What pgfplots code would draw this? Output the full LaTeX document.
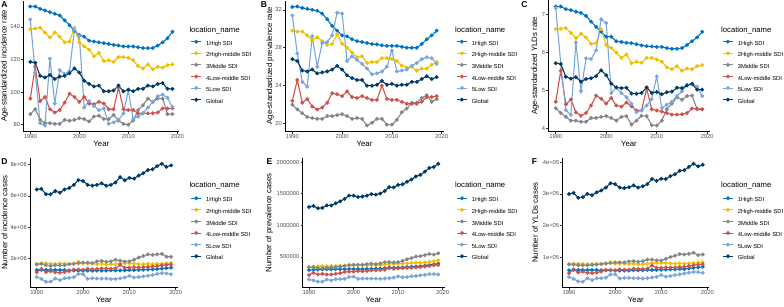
\documentclass[border=0pt]{standalone}
\usepackage{pgfplots}
\pgfplotsset{compat=1.18}
\usepackage{pgfplotstable}
\usepackage{fontspec}
\setmainfont{Liberation Sans}
\definecolor{c1}{HTML}{0073C2}
\definecolor{c2}{HTML}{EFC000}
\definecolor{c3}{HTML}{868686}
\definecolor{c4}{HTML}{CD534C}
\definecolor{c5}{HTML}{7AA6DC}
\definecolor{c6}{HTML}{003C67}
\definecolor{gray30}{gray}{0.30}
\definecolor{gray20}{gray}{0.20}

\pgfplotstableread{
year h hm m lm l g
1990 152.5 138.5 86.5 96 144.5 118.5
1991 152.5 139 89.5 115.5 112 118
1992 151 139.5 83 94.5 81 110
1993 150 136.5 81 97 79.5 109
1994 149 133.5 81 89.5 120.5 110.5
1995 148 136.5 80.5 87.5 93 108
1996 147 134 80.5 89 113.5 109.5
1997 144 130.5 83 93.5 111 110
1998 141 131 82.5 99 113 111.5
1999 137.5 139.5 83 97 138 114.5
2000 135 130.5 84 94 134.5 112
2001 134 128 83.5 97 90.5 107
2002 131.5 126 82 93 94.5 105
2003 131 122 85 92.5 91.5 103.5
2004 130.5 124 85.5 94 89 104
2005 130 119 83.5 93 90 100.5
2006 129.5 119.5 83.5 89.5 80.5 100.5
2007 129 118.5 86 89.5 81.5 101
2008 128.5 121.5 82.5 103 83 104
2009 128 121.5 80.5 89.5 87 100.5
2010 128 121 80 89 101 101.5
2011 128 119.5 82.5 89 83.5 100.5
2012 127.5 116 89 87 85 102
2013 127 114.5 92 87 87 102
2014 127 117 96 87 90.5 104
2015 127 114 94 87 94 103.5
2016 128.5 115.5 96 87.5 97.5 105
2017 130.5 115 96 90 98.5 105.5
2018 133 116.5 86.5 90 96.5 102
2019 137 117 86.5 90 91 102
}\tabA

\pgfplotstableread{
year h hm m lm l g
1990 32.3 29.8 22.0 22.4 31.4 26.8
1991 32.35 29.7 21.5 24.6 27.4 26.6
1992 32.2 29.7 21.1 22.2 24.4 25.6
1993 32.1 29.3 20.7 22.6 23.9 25.5
1994 32.0 28.8 20.6 21.8 29.2 25.7
1995 31.9 29.1 20.5 21.5 26.0 25.3
1996 31.6 28.7 20.5 21.7 28.5 25.4
1997 31.0 28.3 20.8 22.2 28.6 25.5
1998 30.3 28.4 20.8 23.2 29.3 25.7
1999 29.8 29.4 20.9 23.1 31.7 26.1
2000 29.3 28.4 21.0 22.9 31.6 25.7
2001 29.2 28.0 20.8 23.4 26.6 25.1
2002 28.9 27.5 20.5 22.8 27.1 24.8
2003 28.7 27.0 20.6 22.7 26.7 24.6
2004 28.6 27.1 20.5 22.9 26.3 24.6
2005 28.5 26.4 19.8 22.7 25.8 24.0
2006 28.4 26.5 20.1 22.5 25.2 24.0
2007 28.35 26.5 20.5 22.5 25.3 24.1
2008 28.25 26.9 20.5 24.0 25.5 24.5
2009 28.2 26.9 19.9 22.6 26.0 24.1
2010 28.2 26.8 19.9 22.5 27.7 24.2
2011 28.2 26.6 20.4 22.5 25.5 24.0
2012 28.1 26.1 21.2 22.3 25.6 24.1
2013 28.0 25.9 21.6 22.1 25.7 24.1
2014 28.0 26.0 22.2 22.1 26.1 24.4
2015 28.0 25.6 22.2 22.1 26.4 24.4
2016 28.4 25.8 22.7 22.3 26.8 24.7
2017 28.9 25.8 23.0 22.8 27.0 25.0
2018 29.3 26.2 22.3 22.8 26.9 24.7
2019 29.8 26.5 22.6 22.9 26.3 24.9
}\tabB

\pgfplotstableread{
year h hm m lm l g
1990 7.22 6.62 4.53 4.70 7.18 5.72
1991 7.22 6.63 4.40 5.52 5.70 5.70
1992 7.15 6.65 4.30 4.63 4.48 5.36
1993 7.12 6.52 4.20 4.76 4.35 5.31
1994 7.08 6.38 4.20 4.42 6.27 5.35
1995 7.05 6.50 4.17 4.33 4.98 5.23
1996 6.97 6.40 4.17 4.40 5.85 5.30
1997 6.82 6.23 4.27 4.60 5.83 5.32
1998 6.68 6.25 4.27 4.86 6.06 5.38
1999 6.55 6.62 4.30 4.78 6.88 5.53
2000 6.42 6.20 4.32 4.65 6.78 5.40
2001 6.42 6.12 4.27 4.80 4.93 5.18
2002 6.30 6.00 4.20 4.60 5.08 5.08
2003 6.28 5.86 4.30 4.57 4.93 5.06
2004 6.26 5.95 4.32 4.68 4.82 5.07
2005 6.25 5.72 4.10 4.58 4.65 4.92
2006 6.22 5.76 4.20 4.47 4.42 4.91
2007 6.19 5.73 4.33 4.47 4.48 4.93
2008 6.17 5.86 4.32 5.05 4.60 5.08
2009 6.16 5.86 4.08 4.50 4.77 4.93
2010 6.15 5.82 4.07 4.47 5.37 4.96
2011 6.15 5.76 4.20 4.44 4.53 4.90
2012 6.12 5.61 4.50 4.40 4.62 4.95
2013 6.10 5.56 4.65 4.36 4.70 4.97
2014 6.10 5.64 4.82 4.36 4.85 5.07
2015 6.12 5.52 4.75 4.37 4.98 5.06
2016 6.20 5.58 4.85 4.40 5.15 5.13
2017 6.30 5.56 4.86 4.52 5.18 5.17
2018 6.40 5.64 4.50 4.52 5.10 5.02
2019 6.55 5.67 4.50 4.50 4.85 5.02
}\tabC

\pgfplotstableread{
year h hm m lm l g
1990 1250000 1650000 1600000 1100000 800000 6400000
1991 1260000 1680000 1650000 1320000 680000 6450000
1992 1250000 1680000 1550000 1120000 500000 6100000
1993 1250000 1660000 1520000 1170000 500000 6100000
1994 1250000 1630000 1550000 1100000 700000 6300000
1995 1250000 1680000 1550000 1080000 600000 6200000
1996 1250000 1660000 1550000 1120000 720000 6400000
1997 1230000 1630000 1620000 1180000 750000 6500000
1998 1220000 1650000 1650000 1280000 780000 6700000
1999 1210000 1780000 1680000 1280000 1000000 7000000
2000 1200000 1680000 1720000 1270000 980000 6950000
2001 1210000 1670000 1720000 1330000 680000 6700000
2002 1200000 1660000 1700000 1300000 720000 6650000
2003 1210000 1620000 1800000 1310000 700000 6700000
2004 1210000 1650000 1830000 1350000 700000 6800000
2005 1210000 1600000 1780000 1340000 700000 6650000
2006 1220000 1620000 1800000 1330000 670000 6700000
2007 1220000 1620000 1900000 1350000 680000 6850000
2008 1230000 1680000 1850000 1580000 720000 7200000
2009 1230000 1680000 1800000 1400000 770000 7000000
2010 1240000 1680000 1800000 1400000 880000 7150000
2011 1250000 1670000 1900000 1420000 770000 7100000
2012 1260000 1630000 2050000 1420000 800000 7300000
2013 1270000 1620000 2150000 1420000 840000 7450000
2014 1280000 1650000 2250000 1450000 880000 7650000
2015 1290000 1620000 2220000 1470000 930000 7700000
2016 1310000 1640000 2250000 1500000 1000000 7900000
2017 1340000 1640000 2280000 1550000 1050000 8050000
2018 1370000 1670000 2100000 1580000 1030000 7850000
2019 1400000 1700000 2100000 1600000 980000 7950000
}\tabD

\pgfplotstableread{
year h hm m lm l g
1990 290000 345000 330000 210000 140000 1290000
1991 295000 345000 335000 245000 125000 1305000
1992 298000 350000 320000 220000 105000 1270000
1993 300000 350000 320000 230000 105000 1275000
1994 302000 350000 325000 220000 140000 1315000
1995 303000 355000 330000 220000 125000 1315000
1996 305000 355000 335000 230000 145000 1350000
1997 305000 355000 345000 240000 145000 1380000
1998 305000 360000 355000 260000 150000 1420000
1999 305000 375000 365000 265000 180000 1470000
2000 305000 365000 375000 265000 185000 1470000
2001 305000 365000 375000 275000 150000 1450000
2002 305000 365000 375000 270000 155000 1455000
2003 308000 365000 385000 275000 155000 1470000
2004 310000 370000 390000 285000 155000 1495000
2005 312000 365000 385000 285000 155000 1485000
2006 315000 370000 395000 290000 150000 1505000
2007 318000 375000 415000 295000 155000 1545000
2008 322000 385000 415000 335000 160000 1605000
2009 326000 390000 410000 310000 170000 1600000
2010 330000 390000 415000 315000 190000 1640000
2011 333000 395000 435000 320000 175000 1650000
2012 338000 395000 460000 325000 180000 1690000
2013 343000 400000 480000 325000 190000 1725000
2014 347000 405000 505000 330000 195000 1775000
2015 352000 405000 510000 335000 205000 1800000
2016 360000 410000 525000 345000 215000 1850000
2017 370000 420000 545000 355000 225000 1910000
2018 380000 430000 535000 365000 225000 1925000
2019 392000 445000 555000 370000 220000 1975000
}\tabE

\pgfplotstableread{
year h hm m lm l g
1990 59000 79000 77000 50000 38000 300000
1991 60000 80000 77000 62000 32000 303000
1992 60000 80000 75000 52000 24000 288000
1993 60000 79000 75000 55000 23000 290000
1994 60000 78000 75000 51000 34000 300000
1995 60000 79000 76000 50000 28000 296000
1996 60000 79000 77000 52000 34000 305000
1997 59000 78000 79000 55000 34000 311000
1998 59000 79000 81000 60000 36000 320000
1999 59000 84000 82000 60000 46000 334000
2000 58000 80000 84000 59000 46000 331000
2001 58000 80000 84000 62000 33000 320000
2002 58000 80000 84000 61000 35000 318000
2003 58000 79000 87000 61000 35000 321000
2004 59000 80000 88000 64000 34000 327000
2005 59000 78000 86000 63000 34000 320000
2006 59000 79000 88000 63000 33000 324000
2007 60000 79000 93000 64000 34000 331000
2008 60000 82000 93000 74000 36000 347000
2009 60000 82000 90000 67000 38000 341000
2010 61000 82000 90000 67000 44000 348000
2011 61000 82000 95000 68000 39000 347000
2012 62000 81000 101000 68000 41000 356000
2013 62000 80000 105000 68000 44000 362000
2014 63000 81000 110000 69000 46000 373000
2015 63000 80000 109000 70000 49000 375000
2016 65000 81000 111000 72000 52000 385000
2017 67000 82000 114000 75000 54000 395000
2018 68000 83000 107000 77000 53000 387000
2019 70000 84000 109000 78000 51000 392000
}\tabF

\pgfplotsset{
  panel/.style={
    scale only axis,
    anchor=south west,
    axis lines*=left,
    axis line style={black, line width=0.55pt},
    xmin=1988.55, xmax=2020.45,
    xtick={1990,2000,2010,2020},
    tick align=outside,
    major tick length=2pt,
    tick style={gray20, line width=0.55pt},
    scaled y ticks=false,
    ticklabel style={font=\fontsize{5.8}{6}\selectfont, text=gray30},
    xticklabel style={inner sep=1pt},
    yticklabel style={inner sep=1pt},
    /pgf/number format/assume math mode=true,
    /pgf/number format/1000 sep={},
    xlabel={Year},
    every axis x label/.style={at={(axis description cs:0.5,0)}, anchor=center, yshift=-12pt,
      font=\fontsize{7.8}{9}\selectfont, text=black, inner sep=0pt},
    every axis y label/.style={at={(axis description cs:0,0.5)}, anchor=center, rotate=90,
      font=\fontsize{7.8}{9}\selectfont, text=black, inner sep=0pt},
    legend cell align=left,
    legend style={draw=none, fill=none, at={(1,1)}, anchor=north west,
      inner sep=0pt, outer sep=0pt, row sep=5.35pt, column sep=4.3pt,
      font=\fontsize{5.8}{7}\selectfont,
      nodes={inner sep=0pt, outer sep=0pt, text height=4.5pt, text depth=1.2pt}},
    legend image code/.code={\draw[mark repeat=2,mark phase=2] plot coordinates {(0pt,2.05pt) (5pt,2.05pt) (10pt,2.05pt)};},
    every axis plot/.append style={line width=1.1pt, mark=*, mark size=1.35pt, mark options={solid}},
  }
}

\newcommand{\plotsix}[1]{%
  \addplot[c1] table[x=year,y=h]{#1}; \addlegendentry{1High SDI}
  \addplot[c2] table[x=year,y=hm]{#1}; \addlegendentry{2High-middle SDI}
  \addplot[c3] table[x=year,y=m]{#1}; \addlegendentry{3Middle SDI}
  \addplot[c4] table[x=year,y=lm]{#1}; \addlegendentry{4Low-middle SDI}
  \addplot[c5] table[x=year,y=l]{#1}; \addlegendentry{5Low SDI}
  \addplot[c6] table[x=year,y=g]{#1}; \addlegendentry{Global}
}

\begin{document}
\begin{tikzpicture}
\path[use as bounding box] (0,0) rectangle (784pt,306pt);

% Panel A
\begin{axis}[panel, at={(23.2pt,174.5pt)}, width=156.3pt, height=131pt,
  ymin=75.85, ymax=156.15, ytick={80,100,120,140},
  ylabel={Age-standardized incidence rate}, ylabel style={yshift=18.7pt},
  legend style={xshift=11.2pt, yshift=-39.8pt}]
\plotsix{\tabA}
\end{axis}

% Panel B
\begin{axis}[panel, at={(285.1pt,174.5pt)}, width=158.8pt, height=131pt,
  ymin=19.17, ymax=32.98, ytick={20,24,28,32},
  ylabel={Age-standardized prevalence rate}, ylabel style={yshift=15.1pt},
  legend style={xshift=12.5pt, yshift=-39.8pt}]
\plotsix{\tabB}
\end{axis}

% Panel C
\begin{axis}[panel, at={(548.4pt,174.5pt)}, width=161.1pt, height=131pt,
  ymin=3.9125, ymax=7.3775, ytick={4,5,6,7},
  ylabel={Age-standardized YLDs rate}, ylabel style={yshift=13.4pt},
  legend style={xshift=12.9pt, yshift=-39.8pt}]
\plotsix{\tabC}
\end{axis}

% Panel D
\begin{axis}[panel, at={(30pt,18.4pt)}, width=147.8pt, height=129.7pt,
  ymin=122500, ymax=8427500, ytick={2000000,4000000,6000000,8000000},
  yticklabels={2e+06,4e+06,6e+06,8e+06},
  ylabel={Number of incidence cases}, ylabel style={yshift=25.3pt},
  legend style={xshift=12.9pt, yshift=-39.0pt}]
\plotsix{\tabD}
\end{axis}

% Panel E
\begin{axis}[panel, at={(302.5pt,18.4pt)}, width=142.2pt, height=129.7pt,
  ymin=11500, ymax=2068500, ytick={500000,1000000,1500000,2000000},
  yticklabels={500000,1000000,1500000,2000000},
  ylabel={Number of prevalence cases}, ylabel style={yshift=33.2pt},
  legend style={xshift=11.7pt, yshift=-39.0pt}]
\plotsix{\tabE}
\end{axis}

% Panel F
\begin{axis}[panel, at={(562.3pt,18.4pt)}, width=147.1pt, height=129.7pt,
  ymin=4400, ymax=413600, ytick={100000,200000,300000,400000},
  yticklabels={1e+05,2e+05,3e+05,4e+05},
  ylabel={Number of YLDs cases}, ylabel style={yshift=27.3pt},
  legend style={xshift=13pt, yshift=-39.0pt}]
\plotsix{\tabF}
\end{axis}

% legend titles
\begin{scope}[every node/.style={anchor=west, inner sep=0pt, font=\fontsize{7.7}{9}\selectfont}]
\node at (189.3pt,275.4pt) {location\_name};
\node at (455pt,275.4pt) {location\_name};
\node at (721pt,275.4pt) {location\_name};
\node at (189.3pt,120.3pt) {location\_name};
\node at (455pt,120.3pt) {location\_name};
\node at (721pt,120.3pt) {location\_name};
\end{scope}

% panel letters
\begin{scope}[every node/.style={inner sep=0pt, font=\fontsize{8.5}{9}\selectfont\bfseries}]
\node at (4.5pt,301.5pt) {A};
\node at (264pt,301.5pt) {B};
\node at (524.5pt,301.5pt) {C};
\node at (4.5pt,144.5pt) {D};
\node at (269.5pt,144.5pt) {E};
\node at (534.5pt,144.5pt) {F};
\end{scope}
\end{tikzpicture}
\end{document}
